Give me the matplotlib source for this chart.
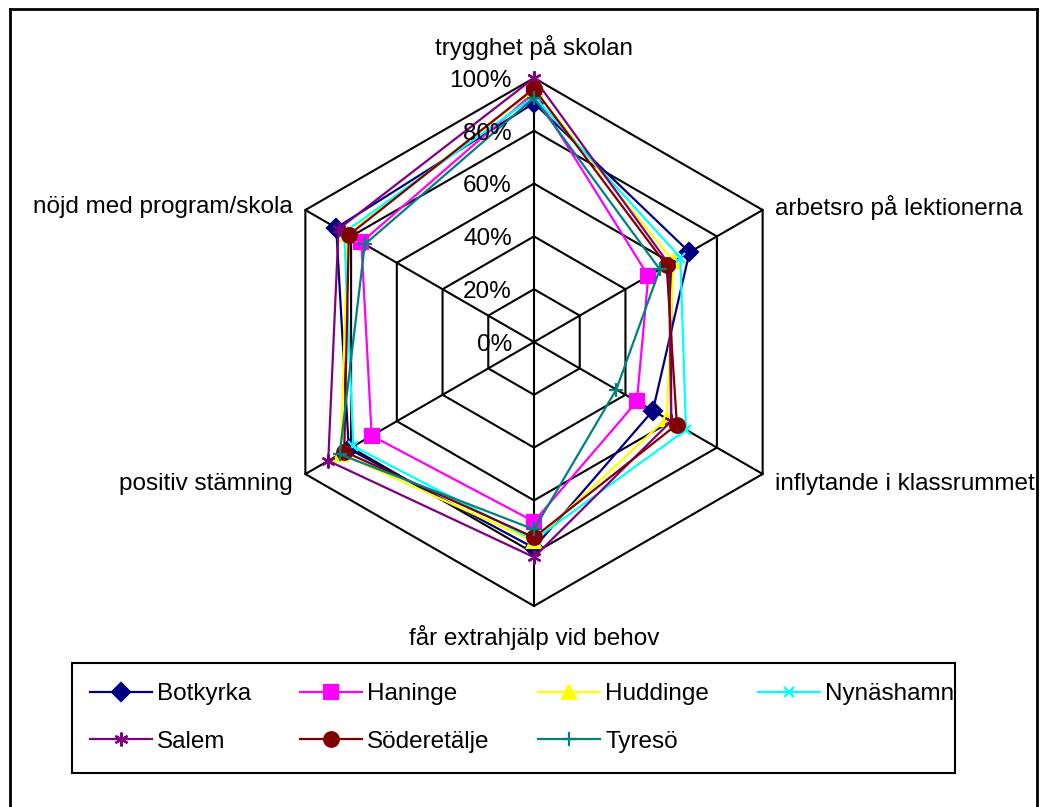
import numpy as np
import matplotlib
matplotlib.use("Agg")
import matplotlib.pyplot as plt
from matplotlib.lines import Line2D
from matplotlib.patches import Rectangle

plt.rcParams['font.family'] = ['Liberation Sans', 'DejaVu Sans']

categories = ["trygghet på skolan", "arbetsro på lektionerna", "inflytande i klassrummet",
              "får extrahjälp vid behov", "positiv stämning", "nöjd med program/skola"]
ticks = [0.0, 0.2, 0.4, 0.6, 0.8, 1.0]
tick_labels = ["0%", "20%", "40%", "60%", "80%", "100%"]

botkyrka = [0.905, 0.68, 0.52, 0.78, 0.81, 0.865]
haninge = [0.945, 0.50, 0.45, 0.68, 0.71, 0.755]
huddinge = [0.955, 0.61, 0.58, 0.755, 0.845, 0.815]
nynashamn = [0.93, 0.64, 0.665, 0.75, 0.79, 0.83]
salem = [1.0, 0.59, 0.60, 0.815, 0.90, 0.855]
soderetalje = [0.96, 0.58, 0.625, 0.74, 0.83, 0.81]
tyreso = [0.925, 0.55, 0.36, 0.71, 0.85, 0.74]

series_names = ["Botkyrka", "Haninge", "Huddinge", "Nynäshamn", "Salem", "Söderetälje", "Tyresö"]
series_values = [botkyrka, haninge, huddinge, nynashamn, salem, soderetalje, tyreso]
colors = ["#000080", "#FF00FF", "#FFFF00", "#00FFFF", "#800080", "#800000", "#008080"]
markers = ["D", "s", "^", "x", (6, 2, 0), "o", "+"]
msizes = [9.5, 9.5, 10, 7.5, 10, 10.5, 10]

fig = plt.figure(figsize=(10.45, 8.07), dpi=100)
fig.patch.set_facecolor("white")

W, H = 1045, 807
# outer frame
fig.add_artist(Line2D([10/W, 10/W], [0, 1 - 9/H], transform=fig.transFigure, color="black", lw=2))
fig.add_artist(Line2D([10/W, 1037/W], [1 - 9/H, 1 - 9/H], transform=fig.transFigure, color="black", lw=2))
fig.add_artist(Line2D([1037/W, 1037/W], [0, 1 - 9/H], transform=fig.transFigure, color="black", lw=2))

cx, cy, R = 534, H - 342, 264
ax = fig.add_axes([(cx - R) / W, (cy - R) / H, 2 * R / W, 2 * R / H], projection="polar")
ax.set_theta_offset(np.pi / 2)
ax.set_theta_direction(-1)
ax.set_ylim(0, 1)
ax.grid(False)
ax.spines["polar"].set_visible(False)
ax.set_xticks([])
ax.set_yticks([])
ax.patch.set_alpha(0)

n = len(categories)
angles = np.linspace(0, 2 * np.pi, n, endpoint=False)
closed = np.concatenate([angles, angles[:1]])

# hexagonal grid
for t in ticks[1:]:
    ax.plot(closed, [t] * (n + 1), color="black", lw=1.5, zorder=1, clip_on=False)
for a in angles:
    ax.plot([a, a], [0, 1], color="black", lw=1.5, zorder=1, clip_on=False)

# radial labels
for t, lab in zip(ticks, tick_labels):
    ax.annotate(lab, xy=(0, t), xytext=(-16, -2), textcoords="offset points",
                ha="right", va="center", fontsize=17.5, zorder=5)

# category labels
offsets = [(0, 13, "center", "bottom"), (9, 2, "left", "center"), (9, -7, "left", "center"),
           (0, -14, "center", "top"), (-9, -7, "right", "center"), (-9, 2, "right", "center")]
for a, lab, (dx, dy, ha, va) in zip(angles, categories, offsets):
    ax.annotate(lab, xy=(a, 1.0), xytext=(dx, dy), textcoords="offset points",
                ha=ha, va=va, fontsize=17.5, annotation_clip=False)

handles = []
for name, vals, c, m, ms in zip(series_names, series_values, colors, markers, msizes):
    v = np.concatenate([vals, vals[:1]])
    h, = ax.plot(closed, v, color=c, lw=1.6, marker=m, markersize=ms,
                 markerfacecolor=c, markeredgecolor=c, markeredgewidth=1.6,
                 label=name, zorder=3, clip_on=False)
    handles.append(h)

# legend frame drawn separately
fig.add_artist(Rectangle((72 / W, 1 - 773 / H), (955 - 72) / W, 110 / H,
                         transform=fig.transFigure, facecolor="white",
                         edgecolor="black", lw=1.5, zorder=0))

# legend: reorder so columns fill like rows
order = [0, 4, 1, 5, 2, 6, 3]
leg = fig.legend([handles[i] for i in order], [series_names[i] for i in order],
                 ncol=4, loc="center",
                 bbox_to_anchor=(72 / W, 1 - 773 / H, (972 - 72) / W, 110 / H),
                 mode="expand", fontsize=17.5, frameon=False,
                 handlelength=2.55, handletextpad=0.2,
                 labelspacing=1.05, borderpad=0.75, borderaxespad=0, numpoints=1)

fig.savefig("out.png", dpi=100, facecolor="white")
